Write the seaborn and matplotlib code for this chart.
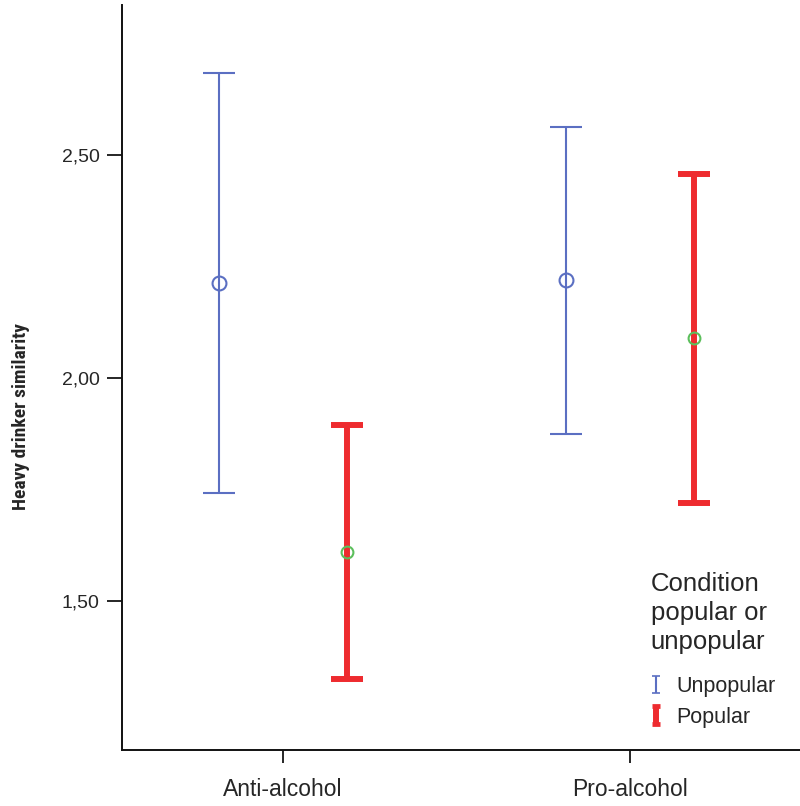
import matplotlib
matplotlib.use("Agg")
import matplotlib.pyplot as plt
import seaborn as sns
import numpy as np
from matplotlib import font_manager
from matplotlib.legend_handler import HandlerErrorbar

sns.set_style("white")
plt.rcParams['font.family'] = ['Liberation Sans', 'DejaVu Sans']

names = {f.name for f in font_manager.fontManager.ttflist}
cond_font = 'Liberation Sans Narrow' if 'Liberation Sans Narrow' in names else (
    'Roboto Condensed' if 'Roboto Condensed' in names else 'Liberation Sans')

# ---- data ----
categories = ["Anti-alcohol", "Pro-alcohol"]
groups = ["Unpopular", "Popular"]
unpop_mean = [2.213, 2.220]
unpop_low = [1.742, 1.874]
unpop_high = [2.684, 2.563]
pop_mean = [1.610, 2.090]
pop_low = [1.325, 1.720]
pop_high = [1.895, 2.457]
yticks = [1.50, 2.00, 2.50]
ytick_labels = ["1,50", "2,00", "2,50"]

fig = plt.figure(figsize=(8.0, 8.06), dpi=100)
ax = fig.add_axes([0.1525, 0.0695, 0.8475, 0.9243])

x = np.arange(len(categories))
off = 0.184

specs = [
    (unpop_mean, unpop_low, unpop_high, -off, "#5b6fc2", 1.5, "#5b6fc2", 10, "Unpopular"),
    (pop_mean, pop_low, pop_high, off, "#ee2b2f", 4.3, "#5cbf5c", 8.5, "Popular"),
]
handles = []
for mean, low, high, dx, col, lw, mcol, ms, lab in specs:
    mean = np.array(mean); low = np.array(low); high = np.array(high)
    ax.errorbar(x + dx, mean, yerr=[mean - low, high - mean], fmt='none',
                ecolor=col, elinewidth=lw, capsize=11.5, capthick=lw, zorder=2)
    ax.plot(x + dx, mean, linestyle='none', marker='o', markersize=ms,
            markerfacecolor='none', markeredgecolor=mcol, markeredgewidth=1.5, zorder=3)
    # small proxy for the legend glyph
    proxy = ax.errorbar([np.nan], [np.nan], yerr=[[0.1], [0.1]], fmt='none',
                        ecolor=col, elinewidth=lw, capsize=3, capthick=lw * 0.8)
    handles.append(proxy)

ax.set_xlim(-0.464, 1.49)
ax.set_ylim(1.166, 2.836)
ax.set_xticks(x)
ax.set_xticklabels(categories, fontsize=16.5)
ax.set_yticks(yticks)
ax.set_yticklabels(ytick_labels, fontsize=14)
ax.tick_params(axis='y', direction='out', length=11, width=1.4, pad=5, left=True)
ax.tick_params(axis='x', direction='out', length=9, width=1.4, pad=11, bottom=True)
for s in ['top', 'right']:
    ax.spines[s].set_visible(False)
for s in ['left', 'bottom']:
    ax.spines[s].set_linewidth(1.4)
    ax.spines[s].set_color('#111111')

ax.set_ylabel("Heavy drinker similarity", fontsize=14, fontweight='bold',
              family=[cond_font, 'DejaVu Sans'])
ax.yaxis.set_label_coords(-0.135, 0.447)

leg = ax.legend(handles=handles, labels=groups, title="Condition\npopular or\nunpopular",
                loc='lower right', bbox_to_anchor=(0.993, 0.004), frameon=False,
                fontsize=15.5, title_fontsize=18.5, handlelength=0.5, handletextpad=0.7,
                alignment='left', labelspacing=0.45,
                handler_map={type(handles[0]): HandlerErrorbar(xerr_size=0.3, yerr_size=0.4)})
leg.get_title().set_linespacing(1.25)
leg._legend_box.sep = 16

fig.savefig("out.png", dpi=100)
